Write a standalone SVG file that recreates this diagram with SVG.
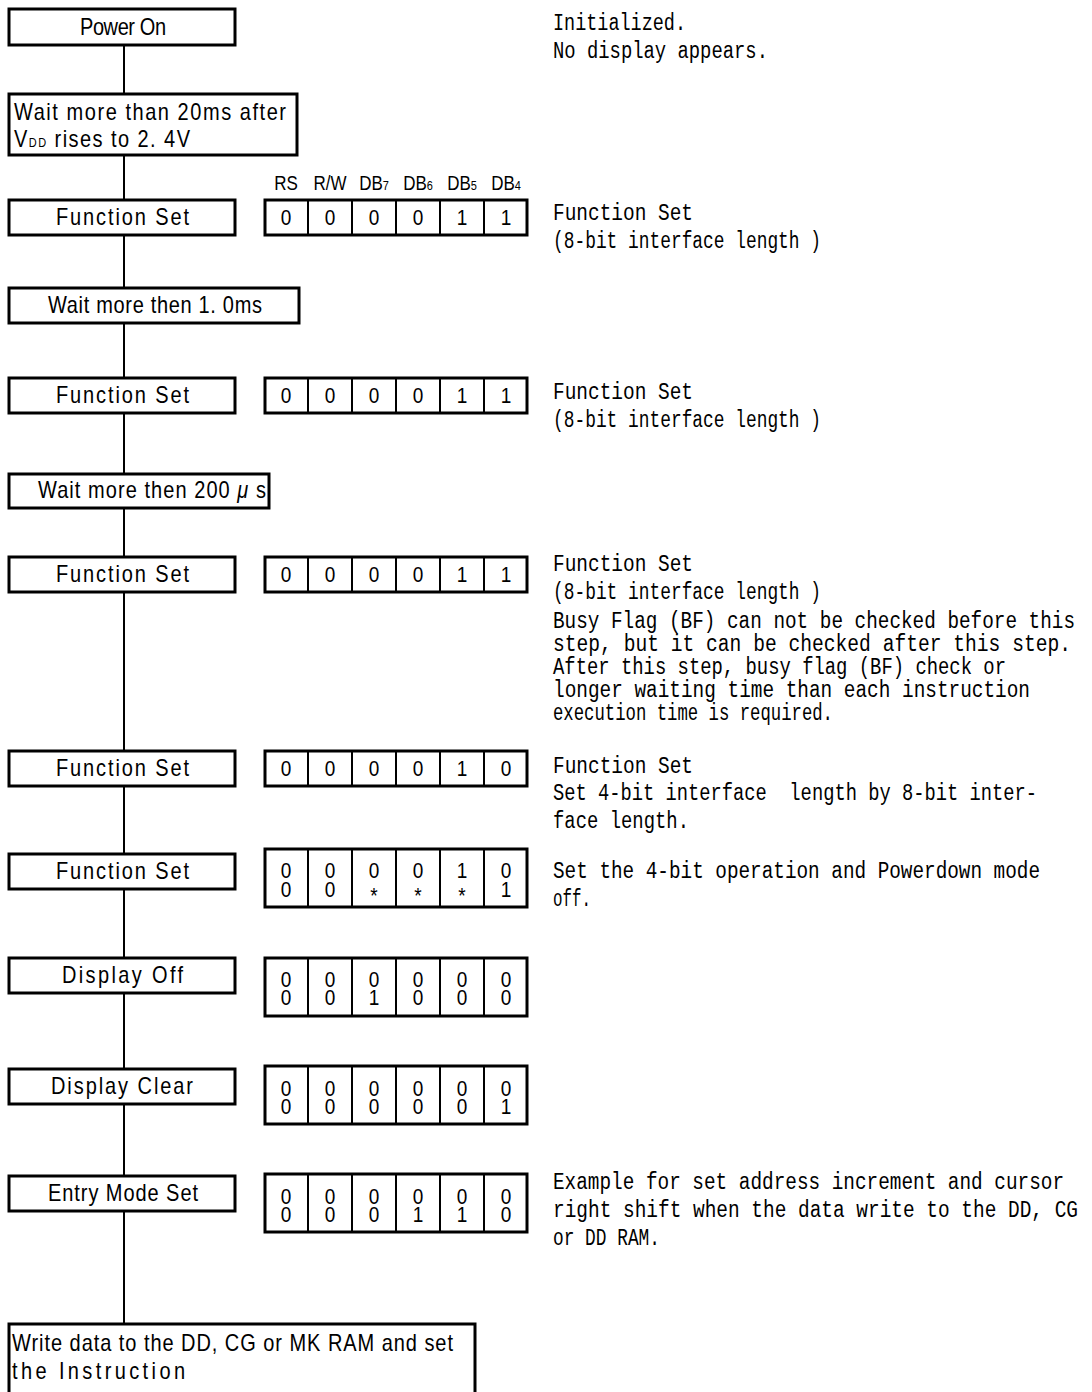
<svg xmlns="http://www.w3.org/2000/svg" width="1092" height="1392" viewBox="0 0 1092 1392">
<style>
.bx{fill:#fff;stroke:#000;stroke-width:3}
.rg{fill:#fff;stroke:#000;stroke-width:3}
.dv{stroke:#000;stroke-width:2}
.ln{stroke:#000;stroke-width:2;fill:none}
text{font-family:"Liberation Sans","Arial",sans-serif;font-size:20px;fill:#000}
.m{font-family:"Liberation Mono","DejaVu Sans Mono",monospace;font-size:19px}
.d{font-size:19px;text-anchor:middle}
.h{font-size:17px;text-anchor:middle}
.sub{font-size:11px}
</style>
<rect width="1092" height="1392" fill="#fff"/>
<g id="connectors">
<line class="ln" x1="124" y1="46" x2="124" y2="94"/>
<line class="ln" x1="124" y1="155" x2="124" y2="200"/>
<line class="ln" x1="124" y1="235" x2="124" y2="288"/>
<line class="ln" x1="124" y1="323" x2="124" y2="378"/>
<line class="ln" x1="124" y1="413" x2="124" y2="474"/>
<line class="ln" x1="124" y1="508" x2="124" y2="557"/>
<line class="ln" x1="124" y1="592" x2="124" y2="751"/>
<line class="ln" x1="124" y1="786" x2="124" y2="854"/>
<line class="ln" x1="124" y1="889" x2="124" y2="958"/>
<line class="ln" x1="124" y1="993" x2="124" y2="1069"/>
<line class="ln" x1="124" y1="1104" x2="124" y2="1176"/>
<line class="ln" x1="124" y1="1211" x2="124" y2="1324"/>
</g>
<g id="power-on">
<rect class="bx" x="9" y="9" width="226" height="36"/>
<text transform="translate(80 35) scale(1 1.2)" textLength="86" lengthAdjust="spacing">Power On</text>
</g>
<g id="wait-20ms">
<rect class="bx" x="9" y="94" width="288" height="61"/>
<text transform="translate(14 120) scale(1 1.2)" textLength="272" lengthAdjust="spacing">Wait more than 20ms after</text>
<text transform="translate(14 147) scale(1 1.2)" textLength="176" lengthAdjust="spacing">V<tspan class="sub">DD</tspan> rises to 2. 4V</text>
</g>
<g id="header">
<text class="h" transform="translate(286 190) scale(1 1.2)">RS</text>
<text class="h" transform="translate(330 190) scale(1 1.2)">R/W</text>
<text class="h" transform="translate(374 190) scale(1 1.2)">DB<tspan class="sub">7</tspan></text>
<text class="h" transform="translate(418 190) scale(1 1.2)">DB<tspan class="sub">6</tspan></text>
<text class="h" transform="translate(462 190) scale(1 1.2)">DB<tspan class="sub">5</tspan></text>
<text class="h" transform="translate(506 190) scale(1 1.2)">DB<tspan class="sub">4</tspan></text>
</g>
<g id="function-set-1">
<rect class="bx" x="9" y="200" width="226" height="35"/>
<text transform="translate(56 225) scale(1 1.2)" textLength="133" lengthAdjust="spacing">Function Set</text>
</g>
<g id="reg-1">
<rect class="rg" x="265" y="200" width="262" height="35"/>
<path class="dv" d="M308 200V235M352 200V235M396 200V235M440 200V235M484 200V235"/>
<text class="d" transform="translate(286 225) scale(1 1.2)">0</text>
<text class="d" transform="translate(330 225) scale(1 1.2)">0</text>
<text class="d" transform="translate(374 225) scale(1 1.2)">0</text>
<text class="d" transform="translate(418 225) scale(1 1.2)">0</text>
<text class="d" transform="translate(462 225) scale(1 1.2)">1</text>
<text class="d" transform="translate(506 225) scale(1 1.2)">1</text>
</g>
<g id="wait-1ms">
<rect class="bx" x="9" y="288" width="290" height="35"/>
<text transform="translate(48 313) scale(1 1.2)" textLength="214" lengthAdjust="spacing">Wait more then 1. 0ms</text>
</g>
<g id="function-set-2">
<rect class="bx" x="9" y="378" width="226" height="35"/>
<text transform="translate(56 403) scale(1 1.2)" textLength="133" lengthAdjust="spacing">Function Set</text>
</g>
<g id="reg-2">
<rect class="rg" x="265" y="378" width="262" height="35"/>
<path class="dv" d="M308 378V413M352 378V413M396 378V413M440 378V413M484 378V413"/>
<text class="d" transform="translate(286 403) scale(1 1.2)">0</text>
<text class="d" transform="translate(330 403) scale(1 1.2)">0</text>
<text class="d" transform="translate(374 403) scale(1 1.2)">0</text>
<text class="d" transform="translate(418 403) scale(1 1.2)">0</text>
<text class="d" transform="translate(462 403) scale(1 1.2)">1</text>
<text class="d" transform="translate(506 403) scale(1 1.2)">1</text>
</g>
<g id="wait-200us">
<rect class="bx" x="9" y="474" width="260" height="34"/>
<text transform="translate(38 498) scale(1 1.2)" textLength="228" lengthAdjust="spacing">Wait more then 200 <tspan font-style="italic">μ</tspan> s</text>
</g>
<g id="function-set-3">
<rect class="bx" x="9" y="557" width="226" height="35"/>
<text transform="translate(56 582) scale(1 1.2)" textLength="133" lengthAdjust="spacing">Function Set</text>
</g>
<g id="reg-3">
<rect class="rg" x="265" y="557" width="262" height="35"/>
<path class="dv" d="M308 557V592M352 557V592M396 557V592M440 557V592M484 557V592"/>
<text class="d" transform="translate(286 582) scale(1 1.2)">0</text>
<text class="d" transform="translate(330 582) scale(1 1.2)">0</text>
<text class="d" transform="translate(374 582) scale(1 1.2)">0</text>
<text class="d" transform="translate(418 582) scale(1 1.2)">0</text>
<text class="d" transform="translate(462 582) scale(1 1.2)">1</text>
<text class="d" transform="translate(506 582) scale(1 1.2)">1</text>
</g>
<g id="function-set-4">
<rect class="bx" x="9" y="751" width="226" height="35"/>
<text transform="translate(56 776) scale(1 1.2)" textLength="133" lengthAdjust="spacing">Function Set</text>
</g>
<g id="reg-4">
<rect class="rg" x="265" y="751" width="262" height="35"/>
<path class="dv" d="M308 751V786M352 751V786M396 751V786M440 751V786M484 751V786"/>
<text class="d" transform="translate(286 776) scale(1 1.2)">0</text>
<text class="d" transform="translate(330 776) scale(1 1.2)">0</text>
<text class="d" transform="translate(374 776) scale(1 1.2)">0</text>
<text class="d" transform="translate(418 776) scale(1 1.2)">0</text>
<text class="d" transform="translate(462 776) scale(1 1.2)">1</text>
<text class="d" transform="translate(506 776) scale(1 1.2)">0</text>
</g>
<g id="function-set-5">
<rect class="bx" x="9" y="854" width="226" height="35"/>
<text transform="translate(56 879) scale(1 1.2)" textLength="133" lengthAdjust="spacing">Function Set</text>
</g>
<g id="reg-5">
<rect class="rg" x="265" y="849" width="262" height="58"/>
<path class="dv" d="M308 849V907M352 849V907M396 849V907M440 849V907M484 849V907"/>
<text class="d" transform="translate(286 878) scale(1 1.2)">0</text>
<text class="d" transform="translate(330 878) scale(1 1.2)">0</text>
<text class="d" transform="translate(374 878) scale(1 1.2)">0</text>
<text class="d" transform="translate(418 878) scale(1 1.2)">0</text>
<text class="d" transform="translate(462 878) scale(1 1.2)">1</text>
<text class="d" transform="translate(506 878) scale(1 1.2)">0</text>
<text class="d" transform="translate(286 897) scale(1 1.2)">0</text>
<text class="d" transform="translate(330 897) scale(1 1.2)">0</text>
<text class="d" transform="translate(374 903) scale(1 1.2)">*</text>
<text class="d" transform="translate(418 903) scale(1 1.2)">*</text>
<text class="d" transform="translate(462 903) scale(1 1.2)">*</text>
<text class="d" transform="translate(506 897) scale(1 1.2)">1</text>
</g>
<g id="display-off">
<rect class="bx" x="9" y="958" width="226" height="35"/>
<text transform="translate(62 983) scale(1 1.2)" textLength="121" lengthAdjust="spacing">Display Off</text>
</g>
<g id="reg-6">
<rect class="rg" x="265" y="958" width="262" height="58"/>
<path class="dv" d="M308 958V1016M352 958V1016M396 958V1016M440 958V1016M484 958V1016"/>
<text class="d" transform="translate(286 987) scale(1 1.2)">0</text>
<text class="d" transform="translate(330 987) scale(1 1.2)">0</text>
<text class="d" transform="translate(374 987) scale(1 1.2)">0</text>
<text class="d" transform="translate(418 987) scale(1 1.2)">0</text>
<text class="d" transform="translate(462 987) scale(1 1.2)">0</text>
<text class="d" transform="translate(506 987) scale(1 1.2)">0</text>
<text class="d" transform="translate(286 1005) scale(1 1.2)">0</text>
<text class="d" transform="translate(330 1005) scale(1 1.2)">0</text>
<text class="d" transform="translate(374 1005) scale(1 1.2)">1</text>
<text class="d" transform="translate(418 1005) scale(1 1.2)">0</text>
<text class="d" transform="translate(462 1005) scale(1 1.2)">0</text>
<text class="d" transform="translate(506 1005) scale(1 1.2)">0</text>
</g>
<g id="display-clear">
<rect class="bx" x="9" y="1069" width="226" height="35"/>
<text transform="translate(51 1094) scale(1 1.2)" textLength="142" lengthAdjust="spacing">Display Clear</text>
</g>
<g id="reg-7">
<rect class="rg" x="265" y="1066" width="262" height="58"/>
<path class="dv" d="M308 1066V1124M352 1066V1124M396 1066V1124M440 1066V1124M484 1066V1124"/>
<text class="d" transform="translate(286 1096) scale(1 1.2)">0</text>
<text class="d" transform="translate(330 1096) scale(1 1.2)">0</text>
<text class="d" transform="translate(374 1096) scale(1 1.2)">0</text>
<text class="d" transform="translate(418 1096) scale(1 1.2)">0</text>
<text class="d" transform="translate(462 1096) scale(1 1.2)">0</text>
<text class="d" transform="translate(506 1096) scale(1 1.2)">0</text>
<text class="d" transform="translate(286 1114) scale(1 1.2)">0</text>
<text class="d" transform="translate(330 1114) scale(1 1.2)">0</text>
<text class="d" transform="translate(374 1114) scale(1 1.2)">0</text>
<text class="d" transform="translate(418 1114) scale(1 1.2)">0</text>
<text class="d" transform="translate(462 1114) scale(1 1.2)">0</text>
<text class="d" transform="translate(506 1114) scale(1 1.2)">1</text>
</g>
<g id="entry-mode-set">
<rect class="bx" x="9" y="1176" width="226" height="35"/>
<text transform="translate(48 1201) scale(1 1.2)" textLength="150" lengthAdjust="spacing">Entry Mode Set</text>
</g>
<g id="reg-8">
<rect class="rg" x="265" y="1174" width="262" height="58"/>
<path class="dv" d="M308 1174V1232M352 1174V1232M396 1174V1232M440 1174V1232M484 1174V1232"/>
<text class="d" transform="translate(286 1204) scale(1 1.2)">0</text>
<text class="d" transform="translate(330 1204) scale(1 1.2)">0</text>
<text class="d" transform="translate(374 1204) scale(1 1.2)">0</text>
<text class="d" transform="translate(418 1204) scale(1 1.2)">0</text>
<text class="d" transform="translate(462 1204) scale(1 1.2)">0</text>
<text class="d" transform="translate(506 1204) scale(1 1.2)">0</text>
<text class="d" transform="translate(286 1222) scale(1 1.2)">0</text>
<text class="d" transform="translate(330 1222) scale(1 1.2)">0</text>
<text class="d" transform="translate(374 1222) scale(1 1.2)">0</text>
<text class="d" transform="translate(418 1222) scale(1 1.2)">1</text>
<text class="d" transform="translate(462 1222) scale(1 1.2)">1</text>
<text class="d" transform="translate(506 1222) scale(1 1.2)">0</text>
</g>
<g id="write-data">
<rect class="bx" x="9" y="1324" width="466" height="80"/>
<text transform="translate(12 1351) scale(1 1.2)" textLength="441" lengthAdjust="spacing">Write data to the DD, CG or MK RAM and set</text>
<text transform="translate(12 1379) scale(1 1.2)" textLength="173" lengthAdjust="spacing">the Instruction</text>
</g>
<g id="notes">
<text class="m" transform="translate(553 30) scale(1 1.3)" textLength="133" lengthAdjust="spacingAndGlyphs">Initialized.</text>
<text class="m" transform="translate(553 58) scale(1 1.3)" textLength="215" lengthAdjust="spacingAndGlyphs">No display appears.</text>
<text class="m" transform="translate(553 220) scale(1 1.3)" textLength="140" lengthAdjust="spacingAndGlyphs">Function Set</text>
<text class="m" transform="translate(553 248) scale(1 1.3)" textLength="268" lengthAdjust="spacingAndGlyphs">(8-bit interface length )</text>
<text class="m" transform="translate(553 399) scale(1 1.3)" textLength="140" lengthAdjust="spacingAndGlyphs">Function Set</text>
<text class="m" transform="translate(553 427) scale(1 1.3)" textLength="268" lengthAdjust="spacingAndGlyphs">(8-bit interface length )</text>
<text class="m" transform="translate(553 571) scale(1 1.3)" textLength="140" lengthAdjust="spacingAndGlyphs">Function Set</text>
<text class="m" transform="translate(553 599) scale(1 1.3)" textLength="268" lengthAdjust="spacingAndGlyphs">(8-bit interface length )</text>
<text class="m" transform="translate(553 628) scale(1 1.3)" textLength="522" lengthAdjust="spacingAndGlyphs">Busy Flag (BF) can not be checked before this</text>
<text class="m" transform="translate(553 651) scale(1 1.3)" textLength="518" lengthAdjust="spacingAndGlyphs">step, but it can be checked after this step.</text>
<text class="m" transform="translate(553 674) scale(1 1.3)" textLength="453" lengthAdjust="spacingAndGlyphs">After this step, busy flag (BF) check or</text>
<text class="m" transform="translate(553 697) scale(1 1.3)" textLength="477" lengthAdjust="spacingAndGlyphs">longer waiting time than each instruction</text>
<text class="m" transform="translate(553 720) scale(1 1.3)" textLength="280" lengthAdjust="spacingAndGlyphs">execution time is required.</text>
<text class="m" transform="translate(553 773) scale(1 1.3)" textLength="140" lengthAdjust="spacingAndGlyphs">Function Set</text>
<text class="m" transform="translate(553 800) scale(1 1.3)" textLength="484" lengthAdjust="spacingAndGlyphs" xml:space="preserve">Set 4-bit interface  length by 8-bit inter-</text>
<text class="m" transform="translate(553 828) scale(1 1.3)" textLength="136" lengthAdjust="spacingAndGlyphs">face length.</text>
<text class="m" transform="translate(553 878) scale(1 1.3)" textLength="487" lengthAdjust="spacingAndGlyphs">Set the 4-bit operation and Powerdown mode</text>
<text class="m" transform="translate(553 906) scale(1 1.3)" textLength="38" lengthAdjust="spacingAndGlyphs">off.</text>
<text class="m" transform="translate(553 1189) scale(1 1.3)" textLength="511" lengthAdjust="spacingAndGlyphs">Example for set address increment and cursor</text>
<text class="m" transform="translate(553 1217) scale(1 1.3)" textLength="525" lengthAdjust="spacingAndGlyphs">right shift when the data write to the DD, CG</text>
<text class="m" transform="translate(553 1245) scale(1 1.3)" textLength="107" lengthAdjust="spacingAndGlyphs">or DD RAM.</text>
</g>
</svg>
